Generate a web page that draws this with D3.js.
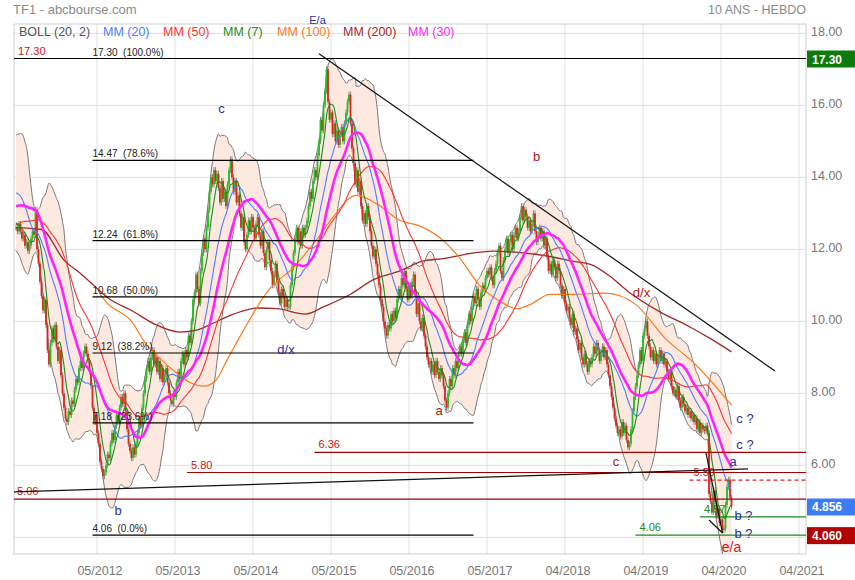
<!DOCTYPE html>
<html><head><meta charset="utf-8">
<script src="https://cdn.jsdelivr.net/npm/d3@7/dist/d3.min.js"></script>
<style>body{margin:0;background:#fff;} svg{display:block;font-family:"Liberation Sans",Arial,sans-serif;}</style>
</head><body><svg id="c" width="855" height="580"></svg>
<script>
// ---------- DATA ----------
const firstWeek = "2011-04-25"; // first visible weekly candle (Monday)
// closes before the first visible candle (warm-up of the moving averages / Bollinger)
const priorCloses = [11.2,11.5,11.8,11.4,11.6,12.0,11.7,11.9,12.2,11.8,12.0,12.3,11.9,12.1,11.8,12.0,12.2,11.9,12.1,12.3,
  12.0,12.2,12.4,12.3,12.5,12.2,12.6,12.5,12.7,12.6,
  12.4,12.9,13.4,13.2,13.8,14.2,14.6,14.4,14.8,15.0,14.6,14.2,13.7,13.4,12.9,12.7,13.0,12.6,12.8,12.6];
// weekly closes (visible)
const closes = [
  12.6,12.5,12.7,12.5,12.3,12.4,12.1,12.2,11.95,12.1,
  12.3,12.5,12.4,13.1,12.0,11.6,11.1,10.7,10.3,10.6,
  9.9,9.2,8.8,9.4,9.8,9.5,9.9,9.3,8.9,9.2,
  8.5,8.0,7.6,7.3,7.2,7.5,7.4,7.8,7.7,8.1,
  8.4,8.3,8.7,8.9,8.7,9.1,9.3,9.1,8.9,8.6,
  8.2,7.6,7.2,7.4,6.9,6.6,6.1,5.9,5.7,5.8,
  6.0,6.3,6.2,6.6,6.9,6.7,7.1,7.4,7.2,7.6,
  7.9,7.7,8.0,7.5,7.0,6.6,6.4,6.2,6.5,6.3,
  6.6,6.9,7.3,7.1,7.6,8.0,8.4,8.7,8.9,8.6,
  9.0,9.2,8.8,9.0,8.6,8.9,8.4,8.7,8.3,
  8.5,8.7,8.3,8.0,7.8,7.7,8.0,7.9,8.3,8.6,8.4,8.9,9.1,
  8.8,9.2,9.0,9.6,9.4,10.0,10.6,
  10.8,11.3,10.9,10.5,11.4,11.9,12.3,
  12.0,12.6,13.1,13.6,14.0,13.8,14.2,13.9,14.1,
  13.7,13.3,13.9,13.4,13.6,13.2,13.8,
  14.2,14.5,14.0,
  13.6,13.9,13.3,13.5,13.0,
  12.6,12.9,12.2,12.0,12.4,12.8,12.5,
  12.9,12.6,12.3,12.7,12.9,12.4,
  12.1,12.5,11.9,11.5,12.0,12.2,11.7,
  11.4,11.0,11.3,11.6,11.1,
  10.8,10.5,10.9,10.7,10.4,10.6,10.4,
  10.4,11.0,11.5,11.9,
  12.3,12.6,12.2,12.5,12.1,12.6,12.4,
  12.6,
  12.8,13.2,13.6,13.4,13.9,14.2,14.0,
  14.6,15.0,15.6,15.3,16.0,16.4,17.0,16.1,
  15.6,15.8,15.2,15.5,15.0,15.3,
  14.9,15.2,15.4,15.0,
  15.5,15.8,16.1,16.3,
  15.5,14.8,14.4,
  13.8,14.2,13.6,13.9,
  13.2,12.8,13.0,
  12.7,13.2,12.9,12.5,
  12.1,11.8,12.0,11.6,11.3,
  11.0,10.6,10.4,
  10.0,9.8,9.6,9.9,
  9.8,10.2,10.0,10.3,10.1,
  10.6,10.9,10.7,11.2,11.0,11.4,10.9,
  10.6,11.0,10.7,11.1,11.3,
  10.8,10.2,10.5,10.0,9.8,10.1,
  9.6,9.3,9.0,8.8,8.9,8.6,
  8.8,8.5,8.9,8.6,8.4,8.7,8.5,8.2,7.8,
  7.6,
  8.0,8.4,8.2,8.7,8.5,
  8.9,8.7,9.1,
  9.3,9.1,9.5,9.7,9.4,
  9.9,10.2,10.0,10.4,
  10.7,10.5,10.9,10.6,10.4,
  10.8,11.0,10.9,11.2,11.4,11.3,
  11.5,11.2,11.0,11.4,11.6,
  11.9,12.1,11.4,11.2,11.7,
  12.0,12.3,11.9,12.2,12.4,
  12.0,12.4,12.6,12.3,12.5,
  12.9,13.2,12.8,13.1,12.9,
  12.6,12.8,12.5,12.7,
  13.0,12.5,12.2,12.4,12.6,
  12.3,12.5,12.1,12.3,
  11.8,11.4,11.6,11.3,11.7,11.5,
  11.2,11.6,11.4,
  11.0,10.7,10.9,10.5,10.3,
  10.4,10.1,9.9,10.2,9.7,9.8,9.5,
  9.2,9.4,9.0,8.8,9.1,8.8,
  8.6,8.9,
  8.8,
  9.0,9.3,9.1,9.4,9.2,8.9,9.1,
  9.3,9.0,9.2,8.8,8.5,
  8.2,7.9,7.6,7.3,7.1,6.9,
  7.0,6.8,7.2,6.9,7.1,
  6.7,6.5,6.6,
  7.0,7.5,7.9,8.2,8.5,
  8.8,9.2,8.9,9.6,9.8,
  10.0,9.6,
  9.3,9.0,9.2,8.9,9.1,8.8,
  9.0,9.2,8.9,9.1,8.8,8.9,8.6,
  8.4,8.6,8.2,8.0,8.1,
  7.9,8.2,7.8,7.6,7.9,7.7,7.5,
  7.6,7.4,7.5,7.3,7.4,7.2,
  7.3,7.0,7.2,6.9,7.1,7.0,6.95,
  7.1,6.9,
  5.2,5.0,
  4.7,5.3,5.0,4.6,
  4.8,4.4,4.5,4.2,4.25,
  4.9,5.4,5.6,5.1,4.856
];
// long moving averages: [candle index, value]
const mm100 = [[56,10.75],[61,10.5],[77,10.0],[87,9.35],[97,8.93],[106,8.6],[116,8.3],[125,8.2],[133,8.35],[141,8.95],[151,9.7],[169,10.9],[185,11.5],[201,12.3],[211,12.87],[227,13.5],[241,13.25],[256,12.8],[269,12.65],[286,12.2],[296,11.75],[309,11.0],[323,10.55],[334,10.35],[343,10.47],[356,10.75],[371,10.75],[393,10.78],[413,10.47],[433,9.52],[453,8.8],[477,7.67]];
const mm200 = [[0,12.6],[17,12.55],[32,11.7],[43,11.33],[63,10.6],[77,10.3],[92,9.93],[109,9.7],[121,9.76],[129,9.9],[145,10.2],[161,10.37],[174,10.35],[193,10.2],[205,10.4],[223,10.75],[238,11.15],[256,11.4],[271,11.67],[286,11.75],[305,11.9],[318,11.95],[338,11.9],[356,11.8],[371,11.67],[383,11.58],[396,11.25],[408,10.83],[429,10.27],[449,9.85],[463,9.52],[477,9.15]];

const yTicks = [4,6,8,10,12,14,16,18];
const xTickDates = ["2012-05-07","2013-05-06","2014-05-05","2015-05-04","2016-05-02","2017-05-01","2018-04-30","2019-04-29","2020-04-27","2021-04-26"];

const legendItems = ["BOLL (20, 2)","MM (20)","MM (50)","MM (7)","MM (100)","MM (200)","MM (30)"];
const legendColors = ["#555555","#4f7dff","#ff3333","#1e8c1e","#ff7a1a","#a12a2a","#ff22ff"];

// Fibonacci retracement
const fibValues = [17.30,14.47,12.24,10.68,9.12,7.18,4.06];
const fibPct = ["100.0%","78.6%","61.8%","50.0%","38.2%","23.6%","0.0%"];
const fibSpan = [51, 305]; // candle indices

// other horizontal levels: value, label, from candle index
const levelValues = [6.36, 5.80, 5.06, 5.59, 4.57, 4.06];
const levelLabels = ["6.36","5.80","5.06","5.59","4.57","4.06"];
const levelFrom = [199, 114, -2, 449, 456, 413];

// trend lines: [[idx, value],[idx, value]]
const trendLines = [
  [[-2,5.26],[488,5.90]],
  [[202,17.43],[506,8.62]],
  [[460,6.34],[471,4.12]],
  [[462,4.48],[471,4.12]]
];

// wave labels
const waveText = ["E/a","c","d/x","b","b","a","d/x","c","c ?","c ?","a","b ?","b ?","e/a"];
const waveIdx  = [201,  137, 180,  347, 68,  282, 417,  400, 486, 486, 478, 485, 485, 477];
const waveVal  = [18.26,15.8,9.1, 14.45,4.62,7.4, 10.67,5.98,7.18,6.45,5.98,4.48,3.97,3.58];
const waveBlue = [1,1,1,0,1,0,0,0,1,1,1,1,1,0];

// ---------- CHART ----------
const L=14,R=806,T=24,B=554;
const svg = d3.select("#c");
const WEEK = 7*864e5;
const t0 = Date.parse(firstWeek+"T00:00:00Z");
const dateOf = i => new Date(t0 + i*WEEK);
const x = d3.scaleUtc().domain([new Date(t0-1.333*WEEK), new Date(t0+526.667*WEEK)]).range([L,R]);
const y = d3.scaleLinear().domain([18-(B-33.3)/36, 18+(33.3-T)/36]).range([B,T]);
const xi = i => x(dateOf(i));

// titles
svg.append("text").attr("x",13).attr("y",14).attr("font-size",13).attr("fill","#8a8a8a").text("TF1 - abcbourse.com");
svg.append("text").attr("x",806).attr("y",14).attr("text-anchor","end").attr("font-size",12.5).attr("fill","#8a8a8a").text("10 ANS - HEBDO");

// grid
const grid = svg.append("g");
yTicks.forEach(v=>grid.append("line").attr("x1",L).attr("x2",R).attr("y1",y(v)).attr("y2",y(v)).attr("stroke","#dedede"));
const xDates = xTickDates.map(s=>new Date(s+"T00:00:00Z"));
xDates.forEach(d=>grid.append("line").attr("x1",x(d)).attr("x2",x(d)).attr("y1",T).attr("y2",B).attr("stroke","#dedede"));
svg.append("rect").attr("x",L).attr("y",T).attr("width",R-L).attr("height",B-T).attr("fill","none").attr("stroke","#cfcfcf");

// price tags (drawn on the right axis)
const tags = [[17.30,"#0e7a0e","17.30"],[4.856,"#3c7cf5","4.856"],[4.06,"#b30000","4.060"]];

// axis labels (hidden where a price tag covers them)
const fmtY = d3.format(".2f");
yTicks.filter(v=>!tags.some(t=>Math.abs(y(t[0])-y(v))<10))
  .forEach(v=>svg.append("text").attr("x",811).attr("y",y(v)+3).attr("font-size",12.5).attr("fill","#777").text(fmtY(v)));
const fmtX = d3.utcFormat("%m/%Y");
xDates.forEach(d=>svg.append("text").attr("x",x(d)+3).attr("y",575).attr("text-anchor","middle").attr("font-size",12.5).attr("fill","#777").text(fmtX(d)));

// clip
svg.append("clipPath").attr("id","clp").append("rect").attr("x",L).attr("y",T).attr("width",R-L).attr("height",B-T);
const plot = svg.append("g").attr("clip-path","url(#clp)");

// indicators
const all = priorCloses.concat(closes);
const P = priorCloses.length;
function sma(n){ return closes.map((c,i)=>{const j=i+P; const s=Math.max(0,j-n+1); return d3.mean(all.slice(s,j+1));}); }
function boll(n,k){ return closes.map((c,i)=>{const j=i+P; const s=Math.max(0,j-n+1); const w=all.slice(s,j+1); const m=d3.mean(w); const sd=Math.sqrt(d3.mean(w,v=>(v-m)*(v-m))); return [m-k*sd,m+k*sd];}); }
const bb = boll(20,2);
const area = d3.area().x((d,i)=>xi(i)).y0(d=>y(d[0])).y1(d=>y(d[1])).curve(d3.curveMonotoneX);
plot.append("path").datum(bb).attr("d",area).attr("fill","#fde9df");
const lineIdx = d3.line().x((d,i)=>xi(i)).y(d=>y(d)).curve(d3.curveMonotoneX);
plot.append("path").datum(bb.map(d=>d[0])).attr("d",lineIdx).attr("fill","none").attr("stroke","#777").attr("stroke-width",1);
plot.append("path").datum(bb.map(d=>d[1])).attr("d",lineIdx).attr("fill","none").attr("stroke","#777").attr("stroke-width",1);

// candles
const cg = plot.append("g");
closes.forEach((c,i)=>{
  const o = i===0 ? priorCloses[P-1] : closes[i-1];
  const hi=Math.max(o,c), lo=Math.min(o,c);
  const cx = xi(i);
  cg.append("line").attr("x1",cx).attr("x2",cx).attr("y1",y(hi)-3).attr("y2",y(lo)+3).attr("stroke","#777").attr("stroke-width",0.8);
  cg.append("rect").attr("x",cx-0.9).attr("width",1.8).attr("y",y(hi)).attr("height",Math.max(1,y(lo)-y(hi)))
    .attr("fill", c>=o ? "#1fc21f" : "#e0241c");
});

// moving averages
const ptLine = d3.line().x(d=>xi(d[0])).y(d=>y(d[1])).curve(d3.curveMonotoneX);
plot.append("path").datum(mm200).attr("d",ptLine).attr("fill","none").attr("stroke","#a12a2a").attr("stroke-width",1.3);
plot.append("path").datum(mm100).attr("d",ptLine).attr("fill","none").attr("stroke","#ff7a1a").attr("stroke-width",1.2);
plot.append("path").datum(sma(50)).attr("d",lineIdx).attr("fill","none").attr("stroke","#ff3333").attr("stroke-width",1.1);
plot.append("path").datum(sma(20)).attr("d",lineIdx).attr("fill","none").attr("stroke","#4f7dff").attr("stroke-width",1.1);
plot.append("path").datum(sma(7)).attr("d",lineIdx).attr("fill","none").attr("stroke","#1e8c1e").attr("stroke-width",1.1);
plot.append("path").datum(sma(30)).attr("d",lineIdx).attr("fill","none").attr("stroke","#ff22ff").attr("stroke-width",2.6);

// fibonacci
fibValues.forEach((v,k)=>{
  const x1 = k===0 ? L : xi(fibSpan[0]);
  plot.append("line").attr("x1",x1).attr("x2", k===0 ? R : xi(fibSpan[1])).attr("y1",y(v)).attr("y2",y(v)).attr("stroke","#000").attr("stroke-width",1.2);
  plot.append("text").attr("x",xi(fibSpan[0])).attr("y",y(v)-3).attr("font-size",10).attr("fill","#222").style("white-space","pre")
    .text(v.toFixed(2)+"  ("+fibPct[k]+")");
});
plot.append("text").attr("x",18).attr("y",y(17.30)-4).attr("font-size",11).attr("fill","#c02020").text("17.30");

// levels
levelValues.forEach((v,k)=>{
  const green = levelLabels[k]==="4.57"||levelLabels[k]==="4.06";
  const dashed = levelLabels[k]==="5.59";
  const col = green ? "#1a8a1a" : (dashed ? "#e02020" : "#a00000");
  plot.append("line").attr("x1",xi(levelFrom[k])).attr("x2",R).attr("y1",y(v)).attr("y2",y(v)).attr("stroke",col).attr("stroke-width",1.2)
    .attr("stroke-dasharray", dashed ? "4,3" : null);
  plot.append("text").attr("x",xi(levelFrom[k])+4).attr("y",y(v)-4).attr("font-size",11).attr("fill", green ? "#1a8a1a" : "#c02020").text(levelLabels[k]);
});

// trend lines
trendLines.forEach(tl=>plot.append("path").datum(tl).attr("d",d3.line().x(d=>xi(d[0])).y(d=>y(d[1]))).attr("fill","none").attr("stroke","#111").attr("stroke-width",1.2));

// legend (fixed slots as in the reference)
const legendX = [19,103,163,223,277,343,408];
legendItems.forEach((t,k)=>svg.append("text").attr("x",legendX[k]).attr("y",36).attr("font-size",12.5).attr("fill",legendColors[k]).text(t));

// wave labels
waveText.forEach((t,k)=>svg.append("text").attr("x",xi(waveIdx[k])).attr("y",y(waveVal[k])).attr("text-anchor","middle")
  .attr("font-size", t==="e/a" ? 14 : (t==="E/a" ? 11 : 13)).attr("fill", waveBlue[k] ? "#2d2d9a" : (t==="e/a" ? "#e01010" : "#b01414")).text(t));

tags.forEach(([v,col,t])=>{
  svg.append("rect").attr("x",807).attr("y",y(v)-8).attr("width",48).attr("height",17).attr("fill",col);
  svg.append("text").attr("x",812).attr("y",y(v)+5).attr("font-size",12).attr("font-weight","bold").attr("fill","#fff").text(t);
});
</script></body></html>
